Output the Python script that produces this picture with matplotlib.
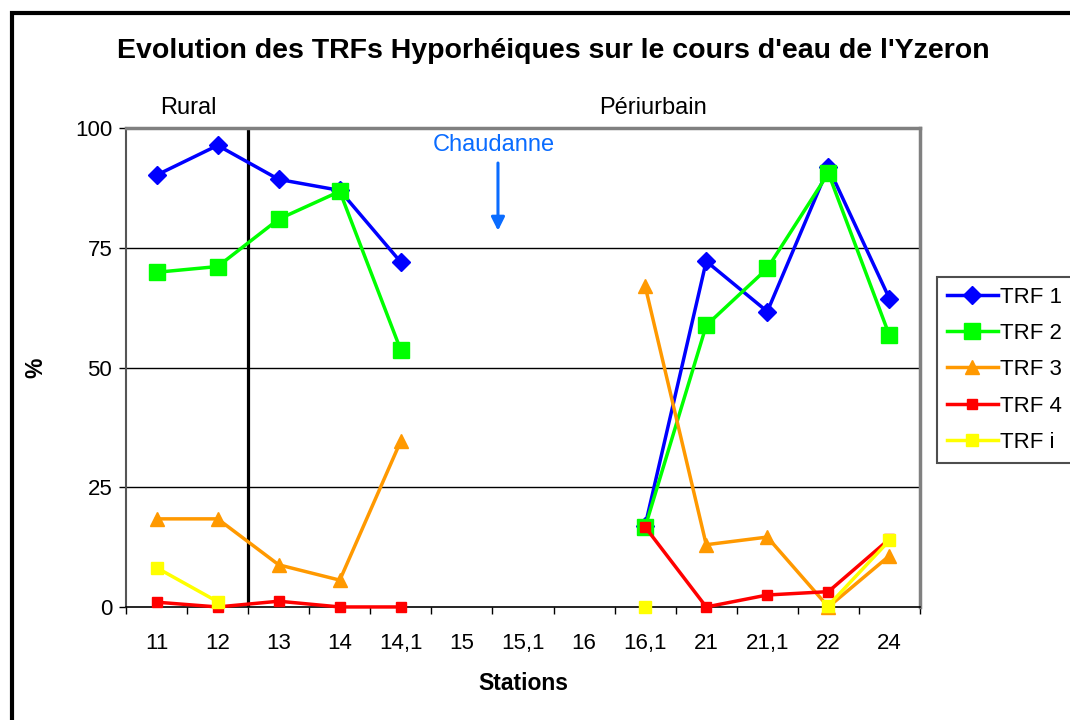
import numpy as np
import matplotlib.pyplot as plt
from matplotlib.patches import Rectangle

plt.rcParams['font.family'] = ['Liberation Sans', 'DejaVu Sans']

# Stations along the Yzeron (x axis categories)
stations = ["11", "12", "13", "14", "14,1", "15", "15,1", "16", "16,1", "21", "21,1", "22", "24"]

nan = np.nan
# Hyporheic TRF percentages per station (gaps = no sample)
trf1 = [90.2, 96.4, 89.3, 87.0, 72.0, nan, nan, nan, 17.0, 72.2, 61.7, 91.8, 64.4]
trf2 = [69.9, 71.1, 81.0, 86.8, 53.6, nan, nan, nan, 16.7, 58.8, 70.7, 90.6, 56.7]
trf3 = [18.4, 18.4, 8.8, 5.6, 34.7, nan, nan, nan, 67.0, 13.0, 14.6, 0.0, 10.7]
trf4 = [1.0, 0.0, 1.2, 0.0, 0.0, nan, nan, nan, 16.7, 0.0, 2.5, 3.2, 14.2]
trfi = [8.2, 1.1, nan, nan, nan, nan, nan, nan, 0.0, nan, nan, 0.3, 13.9]

series = [
    ("TRF 1", trf1, "#0000FF", "D", 9),
    ("TRF 2", trf2, "#00FF00", "s", 11),
    ("TRF 3", trf3, "#FF9900", "^", 10),
    ("TRF 4", trf4, "#FF0000", "s", 7.5),
    ("TRF i", trfi, "#FFFF00", "s", 8.5),
]

fig = plt.figure(figsize=(10.7, 7.2), dpi=100)
ax = fig.add_axes([0.1178, 0.157, 0.742, 0.665])

x = np.arange(len(stations))
for name, vals, col, mk, ms in series:
    ax.plot(x, vals, color=col, lw=2.5, marker=mk, ms=ms, mec=col, mfc=col,
            label=name, clip_on=False, zorder=3)

ax.set_xlim(-0.5, len(stations) - 0.5)
ax.set_ylim(0, 100)
ax.set_yticks([0, 25, 50, 75, 100])
ax.set_xticks(x)
ax.set_xticklabels(stations)
ax.set_xticks(np.arange(-0.5, len(stations)), minor=True)
ax.tick_params(axis='x', which='major', length=0, pad=19, labelsize=16)
ax.tick_params(axis='x', which='minor', length=5, width=1, direction='out')
ax.tick_params(axis='y', length=5, width=1, direction='out', pad=5, labelsize=16)

for yv in (25, 50, 75):
    ax.axhline(yv, color='black', lw=1, zorder=1)

# rural / periurban boundary
ax.axvline(1.5, color='black', lw=2.3, zorder=2)

for side in ('top', 'right'):
    ax.spines[side].set_color('#808080')
    ax.spines[side].set_linewidth(2.5)
ax.spines['left'].set_color('#555555')
ax.spines['left'].set_linewidth(1.5)
ax.spines['bottom'].set_color('black')
ax.spines['bottom'].set_linewidth(1.2)

ax.set_xlabel("Stations", fontsize=16.5, fontweight='bold', labelpad=13)
ax.set_ylabel("%", fontsize=16.5, fontweight='bold')
ax.yaxis.set_label_coords(-0.0995, 0.5)

ax.annotate("", xy=(5.59, 78.0), xytext=(5.59, 93.3),
            arrowprops=dict(arrowstyle='-|>', color='#0A6CFF', lw=2.2, mutation_scale=20))
ax.text(5.53, 96.4, "Chaudanne", color='#0A6CFF', fontsize=17, ha='center', va='center')

ax.text(0.52, 104.2, "Rural", fontsize=17, ha='center', va='center', clip_on=False)
ax.text(8.13, 104.2, "Périurbain", fontsize=17, ha='center', va='center', clip_on=False)

fig.text(0.517, 0.929, "Evolution des TRFs Hyporhéiques sur le cours d'eau de l'Yzeron",
         fontsize=20.5, fontweight='bold', ha='center', va='center')

leg = ax.legend(loc='upper left', bbox_to_anchor=(1.021, 0.69), fontsize=16,
                frameon=True, fancybox=False, borderpad=0.45, labelspacing=0.69,
                handlelength=2.3, handletextpad=0.1, borderaxespad=0)
leg.get_frame().set_edgecolor('#222222')
leg.get_frame().set_linewidth(1.5)

# outer frame
fig.patches.append(Rectangle((0.0112, -0.1), 1.2, 1.082, transform=fig.transFigure,
                             fill=False, edgecolor='black', lw=3))

fig.savefig("out.png", dpi=100)
